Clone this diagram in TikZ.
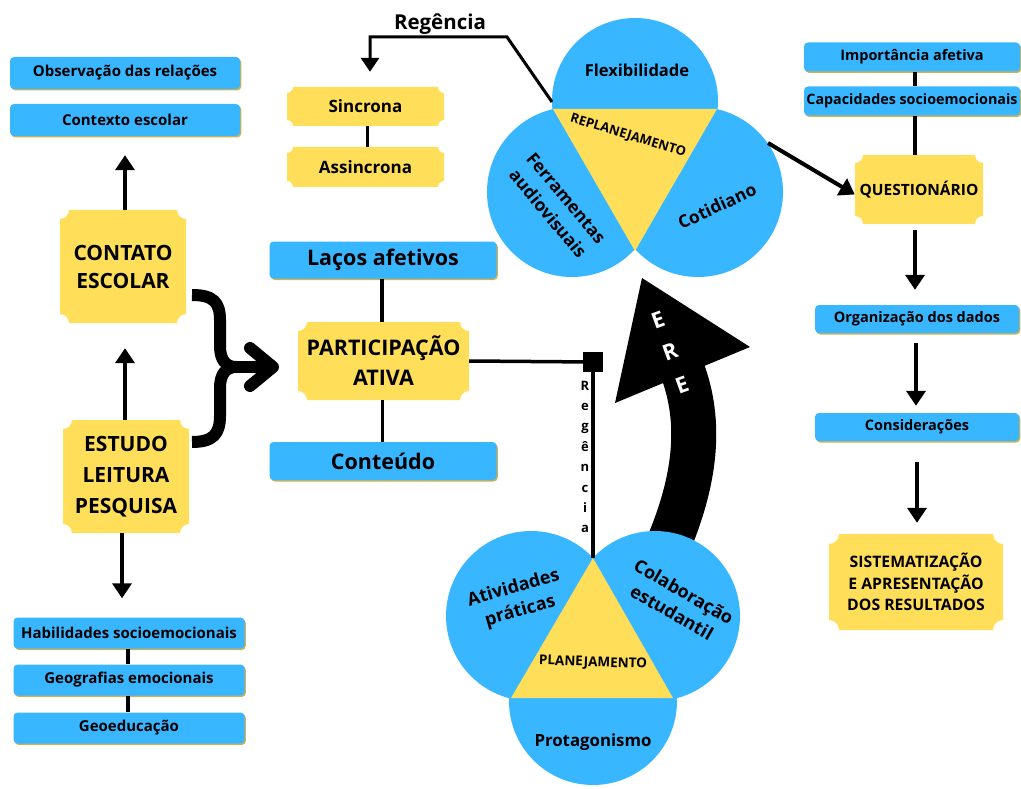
\documentclass[tikz,border=0pt]{standalone}
\usepackage{fontspec}
\setmainfont{Open Sans}
\usetikzlibrary{arrows.meta,shadows,calc}

\definecolor{cblue}{HTML}{38B6FF}
\definecolor{cyellow}{HTML}{FFDE59}
\definecolor{cshadow}{HTML}{C9B25A}

% yellow "ticket" box with concave corners: name, x, y, width, height, notch, font, text
\newcommand\ticket[8]{%
  \fill[cyellow] ({#2-#4/2+#6},{#3-#5/2}) -- ({#2+#4/2-#6},{#3-#5/2})
    arc[start angle=180,end angle=90,radius=#6]
    -- ({#2+#4/2},{#3+#5/2-#6})
    arc[start angle=270,end angle=180,radius=#6]
    -- ({#2-#4/2+#6},{#3+#5/2})
    arc[start angle=360,end angle=270,radius=#6]
    -- ({#2-#4/2},{#3-#5/2+#6})
    arc[start angle=90,end angle=0,radius=#6] -- cycle;
  \node[inner sep=0pt, align=center, minimum width=#4, minimum height=#5, font=#7] (#1) at (#2,#3) {#8};}

\newcommand\fs[2]{\fontsize{#1}{#2}\selectfont\bfseries}

\begin{document}
\begin{tikzpicture}[x=1pt,y=-1pt,
  bluebox/.style={rounded corners=4pt, fill=cblue, inner sep=0pt, align=center,
    copy shadow={shadow xshift=1.3pt, shadow yshift=-1.5pt, fill=cshadow, draw=none}},
  link/.style={line width=3.5pt},
  arr/.style={line width=4pt, -{Triangle[width=19pt,length=15pt]}},
  bubble/.style={circle, fill=cblue, inner sep=0pt},
  label/.style={inner sep=0pt, align=center}]

\fill[white] (0,0) rectangle (1021,789);
\useasboundingbox (0,0) rectangle (1021,789);

% ---------- curved E R E arrow from planning to replanning ----------
\coordinate (ereFoot) at (666,550);
\coordinate (ereNeck) at (683,372);
\draw[line width=45pt] (ereFoot) .. controls (692,490) and (704,430) .. (ereNeck);
\fill[black] (642,278) -- (750,347) -- (615,403) -- cycle;
\node[label, text=white, font=\fs{22}{24}, rotate=20] (ere1) at (658,320) {E};
\node[label, text=white, font=\fs{22}{24}, rotate=20] (ere2) at (670,352) {R};
\node[label, text=white, font=\fs{22}{24}, rotate=20] (ere3) at (682,385) {E};

% ---------- replanning cluster ----------
\node[bubble, minimum size=166pt] (flex) at (635,101) {};
\node[bubble, minimum size=170pt] (ferr) at (572,192) {};
\node[bubble, minimum size=170pt] (coti) at (698,192) {};
\coordinate (rpA) at (553,109);
\coordinate (rpB) at (717,109);
\coordinate (rpC) at (635,251);
\fill[cyellow] (rpA) -- (rpB) -- (rpC) -- cycle;
\node[label, font=\fs{16.5}{19}] (flexT) at (637,70) {Flexibilidade};
\node[label, font=\fs{17.5}{24}, rotate=-50] (ferrT) at (557,206) {Ferramentas\\audiovisuais};
\node[label, font=\fs{17.5}{20}, rotate=25] (cotiT) at (717,206) {Cotidiano};
\node[label, font=\fs{13}{15}, rotate=-17] (replanT) at (628,136) {REPLANEJAMENTO};

% ---------- planning cluster ----------
\node[bubble, minimum size=170pt] (ativ) at (531,616) {};
\node[bubble, minimum size=170pt] (colab) at (655,616) {};
\node[bubble, minimum size=168pt] (prot) at (593,701) {};
\coordinate (plA) at (593,558);
\coordinate (plB) at (511,698);
\coordinate (plC) at (673,698);
\fill[cyellow] (plA) -- (plB) -- (plC) -- cycle;
\node[label, font=\fs{18}{24}, rotate=16] (ativT) at (517,600) {Atividades\\práticas};
\node[label, font=\fs{18}{24}, rotate=-30] (colabT) at (678,602) {Colaboração\\estudantil};
\node[label, font=\fs{13.5}{15}, rotate=-2] (planT) at (593,663) {PLANEJAMENTO};
\node[label, font=\fs{16.8}{19}] (protT) at (593,742) {Protagonismo};

% ---------- left column ----------
\node[bluebox, minimum width=230pt, minimum height=32pt, font=\fs{15}{17}] (obs) at (125,73) {Observação das relações};
\node[bluebox, minimum width=230pt, minimum height=32pt, font=\fs{15}{17}] (ctx) at (125,120) {Contexto escolar};
\ticket{contato}{123}{266.5}{126}{113}{9}{\fs{21}{28}}{CONTATO\\ESCOLAR}
\ticket{estudo}{126}{476.5}{126}{113}{9}{\fs{21}{31}}{ESTUDO\\LEITURA\\PESQUISA}
\node[bluebox, minimum width=231pt, minimum height=31pt, font=\fs{15}{17}] (habil) at (129,633) {Habilidades socioemocionais};
\node[bluebox, minimum width=231pt, minimum height=31pt, font=\fs{15}{17}] (geog) at (129,680) {Geografias emocionais};
\node[bluebox, minimum width=231pt, minimum height=31pt, font=\fs{15}{17}] (geoed) at (129,728) {Geoeducação};

\draw[arr, shorten >=19pt] ([xshift=2pt]contato.north) -- ([xshift=2pt]contato.north |- ctx.south);
\draw[arr, shorten >=25pt] ([xshift=-1pt]estudo.north) -- ([xshift=-1pt]estudo.north |- contato.south);
\draw[arr, shorten >=19pt] ([xshift=-4pt]estudo.south) -- ([xshift=-4pt]estudo.south |- habil.north);
\draw[link] ([xshift=-1pt]habil.south) -- ([xshift=-1pt]geog.north);
\draw[link] ([xshift=-1pt]geog.south) -- ([xshift=-1pt]geoed.north);

% brace gathering both boxes into participation
\coordinate (brTop) at (192,295);
\coordinate (brBot) at (192,442);
\coordinate (brMid) at (236,367);
\draw[line width=12pt, line join=round]
  (brTop) .. controls (213,295) and (220,302) .. (220,320) -- (220,346)
  .. controls (220,360) and (226,367) .. (brMid)
  .. controls (226,367) and (220,374) .. (220,388) -- (220,416)
  .. controls (220,434) and (213,442) .. (brBot);
\draw[line width=12pt, line cap=round, line join=round] (brMid) -- (272,367);
\draw[line width=12pt, line cap=round, line join=round] (250,348) -- (273,367) -- (250,386);

% ---------- centre column ----------
\node[bluebox, minimum width=227pt, minimum height=37pt, font=\fs{21.5}{24}] (lacos) at (383,260) {Laços afetivos};
\ticket{part}{383.5}{361}{171}{78}{9}{\fs{21.5}{30}}{PARTICIPAÇÃO\\ATIVA}
\node[bluebox, minimum width=227pt, minimum height=38pt, font=\fs{21.5}{24}] (cont) at (383,461) {Conteúdo};
\draw[link] ([xshift=-1pt]lacos.south) -- ([xshift=-1pt]lacos.south |- part.north);
\draw[link] ([xshift=-1pt]part.south) -- ([xshift=-1pt]part.south |- cont.north);

\node[fill=black, minimum size=20pt, inner sep=0pt] (sq) at (593,362) {};
\draw[link] (part.east) -- (sq);
\draw[link] (sq) -- (plA);
\node[label, font=\fs{13}{20.4}] (regV) at (585,457) {R\\e\\g\\ê\\n\\c\\i\\a};

% ---------- synchronous / asynchronous ----------
\ticket{sinc}{365.5}{106.5}{157}{39}{6}{\fs{17}{19}}{Sincrona}
\ticket{asinc}{365.5}{167}{157}{40}{6}{\fs{17}{19}}{Assincrona}
\draw[link] ([xshift=2pt]sinc.south) -- ([xshift=2pt]asinc.north);
\draw[line width=3pt, -{Triangle[width=18pt,length=14pt]}, shorten >=15pt]
  ([shift={(-1,-7)}]rpA) -- (507,37) -- ([xshift=4.5pt]sinc.north |- 0,37) -- ([xshift=4.5pt]sinc.north);
\node[label, font=\fs{20.5}{23}] (regT) at (440,24) {Regência};

% ---------- right column ----------
\node[bluebox, minimum width=216pt, minimum height=29pt, font=\fs{14.5}{17}] (imp) at (912,57) {Importância afetiva};
\node[bluebox, minimum width=216pt, minimum height=29pt, font=\fs{14.3}{17}] (cap) at (912,101) {Capacidades socioemocionais};
\ticket{quest}{919}{189.5}{128}{69}{8}{\fs{15.5}{18}}{QUESTIONÁRIO}
\node[bluebox, minimum width=204pt, minimum height=28pt, font=\fs{14.5}{17}] (org) at (917,319) {Organização dos dados};
\node[bluebox, minimum width=204pt, minimum height=28pt, font=\fs{14.5}{17}] (cons) at (917,427) {Considerações};
\ticket{sist}{916}{582}{174}{96}{10}{\fs{15.8}{21.5}}{SISTEMATIZAÇÃO\\E APRESENTAÇÃO\\DOS RESULTADOS}

\draw[link] ([xshift=3pt]imp.south) -- ([xshift=3pt]cap.north);
\draw[link] ([xshift=3pt]cap.south) -- ([xshift=3pt]cap.south |- quest.north);
\draw[arr, shorten <=6pt, shorten >=15pt] ([xshift=-4pt]quest.south) -- ([xshift=-4pt]quest.south |- org.north);
\draw[arr, shorten <=10pt, shorten >=7pt] ([xshift=-1pt]org.south) -- ([xshift=-1pt]cons.north);
\draw[arr, shorten <=21pt, shorten >=11pt] (cons.south) -- (cons.south |- sist.north);

\coordinate (cotiOut) at (768,143);
\draw[arr] (cotiOut) -- ([yshift=-5pt]quest.west);
\end{tikzpicture}
\end{document}
